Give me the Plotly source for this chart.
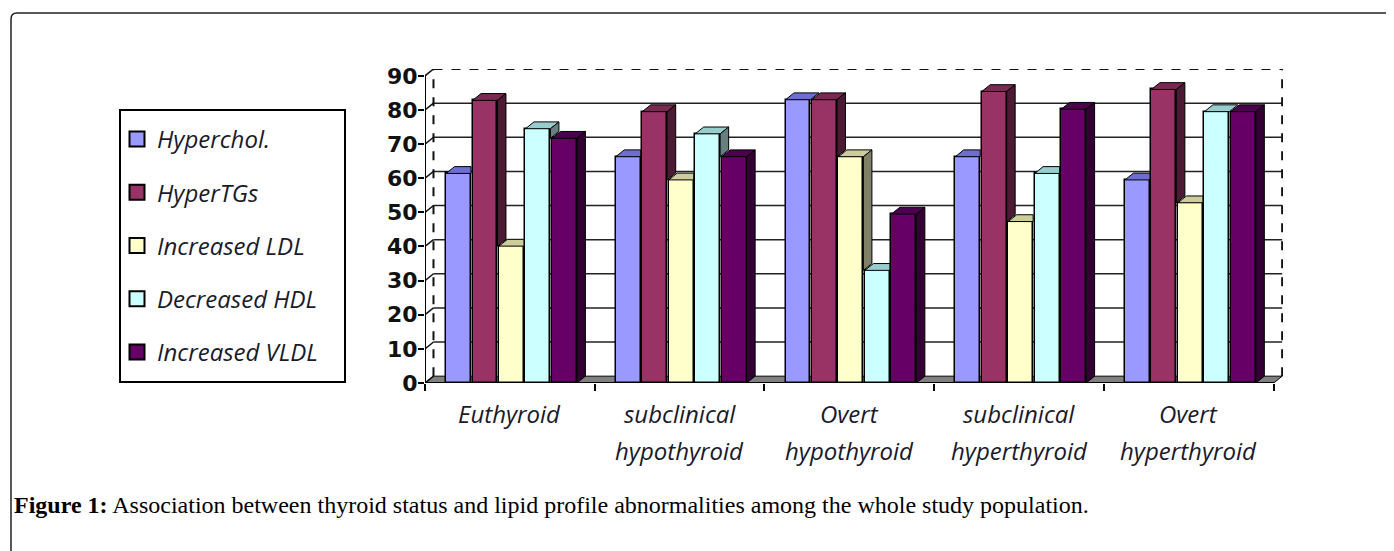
import plotly.graph_objects as go

# ---------------- data ----------------
categories = ["Euthyroid", "subclinical hypothyroid", "Overt hypothyroid",
              "subclinical hyperthyroid", "Overt hyperthyroid"]
series_names = ["Hyperchol.", "HyperTGs", "Increased LDL", "Decreased HDL", "Increased VLDL"]
hyperchol = [61.4, 66.3, 83.0, 66.3, 59.5]
hypertgs = [82.8, 79.5, 83.0, 85.4, 86.0]
increased_ldl = [40.1, 59.5, 66.3, 47.3, 52.8]
decreased_hdl = [74.5, 73.0, 33.0, 61.4, 79.5]
increased_vldl = [71.7, 66.3, 49.5, 80.2, 79.5]
y_ticks = [0, 10, 20, 30, 40, 50, 60, 70, 80, 90]
caption = ("<b>Figure 1:</b> Association between thyroid status and lipid profile "
           "abnormalities among the whole study population.")

# ---------------- style ----------------
front_colors = ["#9999ff", "#993366", "#ffffcc", "#ccffff", "#660066"]
top_colors = ["#6e6ed0", "#7a2952", "#cccc9c", "#99cccc", "#4d004d"]
side_colors = ["#4d4d80", "#4d1a33", "#808066", "#668080", "#330033"]

PAGE_OFF = 8                     # browser body margin
W, H = 1394 - PAGE_OFF, 551 - PAGE_OFF
# plot-area edges in screen pixels
L, R, T, B = 425, 1283, 69, 383
X_MAX = 5.055
Y_MAX = 92.0
DX = 0.05      # depth in x units
DY = 2.0       # depth in y units
BAR_W = 0.147
PITCH = 0.156
OFF = 0.124
TXT_FONT = "Open Sans"
TXT_SIZE = 24


def px(xp):
    return (xp - L) / (R - L)


def py(yp):
    return (B - yp) / (B - T)


all_values = [hyperchol, hypertgs, increased_ldl, decreased_hdl, increased_vldl]
n_cat = len(categories)
n_ser = len(series_names)

fig = go.Figure()

# front faces (real bars)
for k in range(n_ser):
    xs = [i + OFF + k * PITCH + BAR_W / 2 for i in range(n_cat)]
    fig.add_trace(go.Bar(
        x=xs, y=all_values[k], width=BAR_W, name=series_names[k],
        showlegend=False,
        marker=dict(color=front_colors[k], line=dict(color="black", width=1.5)),
        hoverinfo="y+name",
    ))

# 3-D top and side faces derived from the values
for k in range(n_ser):
    top_x, top_y, side_x, side_y = [], [], [], []
    for i in range(n_cat):
        v = all_values[k][i]
        x0 = i + OFF + k * PITCH
        x1 = x0 + BAR_W
        vn = all_values[k + 1][i] if k + 1 < n_ser else None
        if vn is not None and vn > v:
            top_x += [x0, x0 + DX, x1, x1, x0, None]
        else:
            top_x += [x0, x0 + DX, x1 + DX, x1, x0, None]
        top_y += [v, v + DY, v + DY, v, v, None]
        if vn is None:
            base = 0.0
        elif vn < v:
            base = vn
        else:
            base = None
        if base is not None:
            side_x += [x1, x1 + DX, x1 + DX, x1, x1, None]
            side_y += [base, base + DY, v + DY, v, base, None]
    fig.add_trace(go.Scatter(x=top_x, y=top_y, mode="lines", fill="toself",
                             fillcolor=top_colors[k], line=dict(color="black", width=1),
                             showlegend=False, hoverinfo="skip"))
    if side_x:
        fig.add_trace(go.Scatter(x=side_x, y=side_y, mode="lines", fill="toself",
                                 fillcolor=side_colors[k], line=dict(color="black", width=1),
                                 showlegend=False, hoverinfo="skip"))

# legend entries (square swatches)
for k in range(n_ser):
    fig.add_trace(go.Scatter(x=[None], y=[None], mode="markers", name=series_names[k],
                             legendgroup=series_names[k],
                             marker=dict(symbol="square", size=15, color=front_colors[k],
                                         line=dict(color="black", width=2))))

shapes = []
shapes.append(dict(type="path", xref="x", yref="y", layer="below",
                   path=f"M 0,0 L {n_cat},0 L {n_cat + DX},{DY} L {DX},{DY} Z",
                   fillcolor="#808080", line=dict(color="black", width=1)))
for v in y_ticks:
    shapes.append(dict(type="line", xref="x", yref="y", layer="below",
                       x0=0, y0=v, x1=DX, y1=v + DY, line=dict(color="#111", width=1.5)))
    if 0 < v < y_ticks[-1]:
        shapes.append(dict(type="line", xref="x", yref="y", layer="below",
                           x0=DX, y0=v + DY, x1=n_cat + DX, y1=v + DY,
                           line=dict(color="#222", width=1.5)))
top_v = y_ticks[-1] + DY
for (a, b, c, d) in [(DX, DY, DX, top_v), (DX, top_v, n_cat + DX, top_v),
                     (n_cat + DX, DY, n_cat + DX, top_v)]:
    shapes.append(dict(type="line", xref="x", yref="y", layer="below",
                       x0=a, y0=b, x1=c, y1=d,
                       line=dict(color="#111", width=2, dash="dash")))
shapes.append(dict(type="line", xref="x", yref="y", x0=0, y0=0, x1=0, y1=y_ticks[-1],
                   line=dict(color="black", width=2)))
shapes.append(dict(type="line", xref="x", yref="y", x0=0, y0=0, x1=n_cat, y1=0,
                   line=dict(color="black", width=2)))
# legend frame
shapes.append(dict(type="rect", xref="paper", yref="paper",
                   x0=px(120), y0=py(382), x1=px(345), y1=py(110),
                   line=dict(color="black", width=2)))
# outer figure frame (rounded corner, continues beyond the page)
r = 6
shapes.append(dict(type="path", xref="paper", yref="paper",
                   path=(f"M {px(11)},{py(600)} L {px(11)},{py(13 + r)} "
                         f"Q {px(11)},{py(13)} {px(11 + r)},{py(13)} L {px(1450)},{py(13)}"),
                   line=dict(color="#222", width=1.5)))

annotations = []
for i, cat in enumerate(categories):
    for j, line in enumerate(cat.split(" ")):
        annotations.append(dict(x=i + 0.5, xref="x", y=py(413 + 37 * j), yref="paper",
                                text=line, showarrow=False, xanchor="center", yanchor="middle",
                                font=dict(family=TXT_FONT, size=TXT_SIZE, style="italic",
                                          color="#1a1a2a")))
annotations.append(dict(x=px(12), xref="paper", y=py(505), yref="paper", text=caption,
                        showarrow=False, xanchor="left", yanchor="middle",
                        font=dict(family="Liberation Serif", size=24, color="black")))

fig.update_layout(
    width=W, height=H, autosize=False,
    margin=dict(l=L - PAGE_OFF, r=W - (R - PAGE_OFF), t=T - PAGE_OFF,
                b=H - (B - PAGE_OFF), pad=0),
    paper_bgcolor="white", plot_bgcolor="white",
    barmode="overlay", bargap=0,
    shapes=shapes, annotations=annotations,
    showlegend=True,
    legend=dict(x=px(117), y=py(117), xanchor="left", yanchor="top",
                bgcolor="rgba(0,0,0,0)", borderwidth=0, tracegroupgap=19,
                font=dict(family=TXT_FONT, size=TXT_SIZE, style="italic", color="#1a1a2a")),
    xaxis=dict(range=[0, X_MAX], tickvals=list(range(n_cat + 1)), ticks="outside",
               ticklen=7, tickwidth=2, tickcolor="black", showticklabels=False,
               showgrid=False, zeroline=False, showline=False, fixedrange=True),
    yaxis=dict(range=[0, Y_MAX], tickvals=y_ticks, ticks="outside", ticklen=6,
               tickwidth=2, tickcolor="black", showgrid=False, zeroline=False,
               showline=False, ticklabelstandoff=-4,
               tickfont=dict(family="DejaVu Sans", size=22, weight="bold", color="#111")),
)

fig.write_html("out.html")
